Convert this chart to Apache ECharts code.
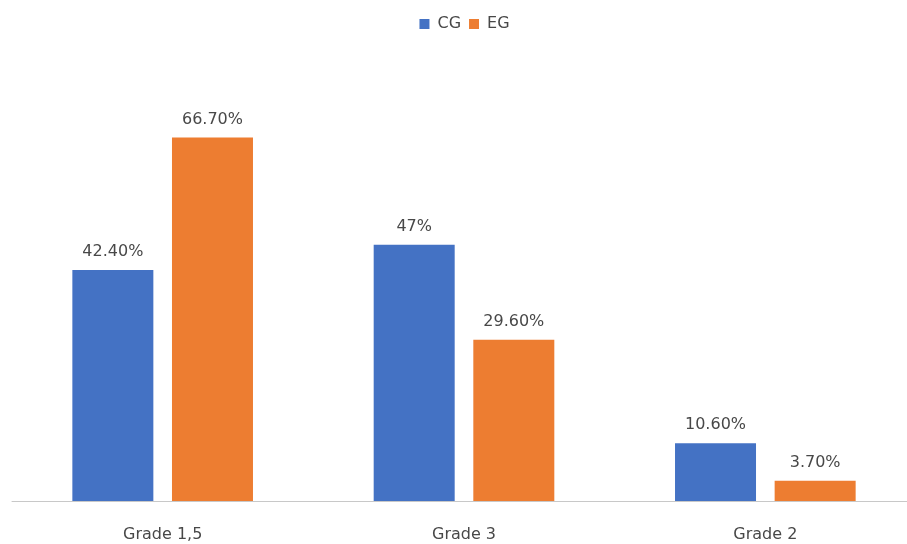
<!DOCTYPE html>
<html>
<head>
<meta charset="utf-8">
<script src="https://cdn.jsdelivr.net/npm/echarts@6/dist/echarts.min.js"></script>
<style>
  html, body { margin: 0; padding: 0; background: #ffffff; overflow: hidden; }
  #chart { width: 929px; height: 544px; }
</style>
</head>
<body>
<div id="chart"></div>
<script>
// Share of students per grade, control group vs experimental group (%)
const categories = ['Grade 1,5', 'Grade 3', 'Grade 2'];
const cgValues = [42.4, 47, 10.6];
const egValues = [66.7, 29.6, 3.7];

const fontFamily = '"DejaVu Sans", "Noto Sans", sans-serif';
const textColor = '#484848';

function pctLabel(p) {
  const v = p.value;
  return Number.isInteger(v) ? v + '%' : v.toFixed(2) + '%';
}

const chart = echarts.init(document.getElementById('chart'), null, { renderer: 'canvas' });
chart.setOption({
  animation: false,
  backgroundColor: '#ffffff',
  textStyle: { fontFamily: fontFamily },
  legend: {
    top: 11,
    left: 'center',
    itemWidth: 10,
    itemHeight: 10,
    itemGap: 8,
    icon: 'rect',
    textStyle: { color: textColor, fontSize: 16, fontFamily: fontFamily, padding: [0, 0, 0, 3] },
    data: ['CG', 'EG']
  },
  grid: { left: 12, right: 13, top: 65, bottom: 43, containLabel: false },
  xAxis: {
    type: 'category',
    data: categories,
    axisLine: { lineStyle: { color: '#c8c8c8', width: 1 } },
    axisTick: { show: false },
    axisLabel: { color: textColor, fontSize: 16, margin: 26, fontFamily: fontFamily }
  },
  yAxis: {
    type: 'value',
    min: 0,
    max: 80,
    show: false,
    splitLine: { show: false }
  },
  series: [
    {
      name: 'CG',
      type: 'bar',
      data: cgValues,
      barWidth: 81,
      barGap: '23%',
      itemStyle: { color: '#4472C4' },
      label: { show: true, position: 'top', distance: 10, color: textColor, fontSize: 16, fontFamily: fontFamily, formatter: pctLabel }
    },
    {
      name: 'EG',
      type: 'bar',
      data: egValues,
      barWidth: 81,
      barGap: '23%',
      itemStyle: { color: '#ED7D31' },
      label: { show: true, position: 'top', distance: 10, color: textColor, fontSize: 16, fontFamily: fontFamily, formatter: pctLabel }
    }
  ]
});
</script>
</body>
</html>
